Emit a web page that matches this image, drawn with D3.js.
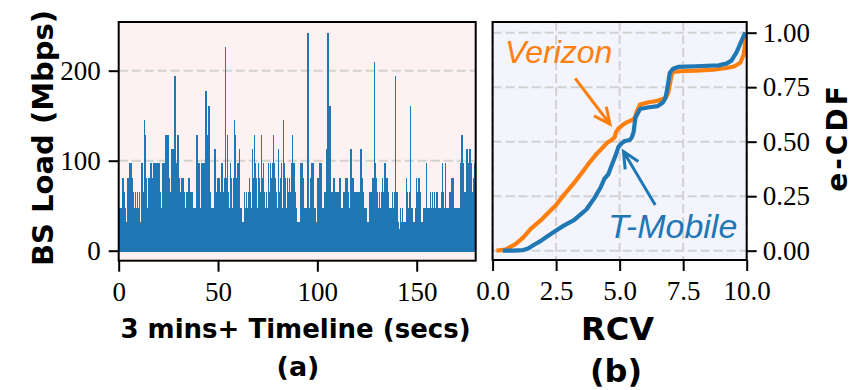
<!DOCTYPE html>
<html><head><meta charset="utf-8">
<script src="https://cdn.jsdelivr.net/npm/d3@7"></script>
<style>
html,body{margin:0;padding:0;background:#fff;}
svg{display:block;}
</style></head>
<body><svg id="chart" width="855" height="390"></svg>
<script>
// ---------------- DATA ----------------
// (a) BS load, one value per 0.5 s sample (Mbps)
const loadMbps = [
 48,48,48,81,81,65,48,32,81,81,
 97,97,97,81,65,48,65,48,65,48,
 65,32,97,97,65,145,129,81,48,81,
 81,65,97,81,65,97,48,97,97,65,
 97,65,48,48,97,97,97,129,48,129,
 81,65,48,113,48,113,194,97,48,129,
 81,48,65,81,81,65,48,48,65,32,
 81,65,48,65,48,48,32,48,129,97,
 97,48,48,97,65,97,97,177,129,97,
 161,65,48,48,32,48,113,65,48,81,
 81,65,48,97,97,65,81,226,81,129,
 65,48,97,81,48,81,145,129,81,97,
 97,113,48,48,32,32,65,48,65,48,
 65,81,65,48,113,81,129,97,81,48,
 97,81,65,129,81,97,65,48,65,48,
 97,65,97,81,97,129,97,81,65,48,
 113,65,81,97,48,145,97,81,48,81,
 65,81,65,97,129,97,97,65,48,32,
 32,32,32,97,97,81,48,32,48,48,
 242,48,48,81,97,97,48,48,32,32,
 81,81,97,97,48,48,32,65,48,113,
 242,161,161,65,48,65,81,65,48,65,
 48,65,81,48,48,48,65,48,81,81,
 65,48,48,113,81,81,65,48,65,48,
 65,48,65,113,81,65,48,48,48,32,
 32,32,65,48,65,81,81,210,97,81,
 65,48,65,48,65,81,65,97,97,81,
 81,65,48,48,48,65,48,65,194,65,
 65,32,24,48,32,48,32,32,32,81,
 65,48,65,161,48,48,32,32,48,81,
 65,81,81,65,32,32,48,48,48,97,
 48,48,48,65,48,65,48,65,48,65,
 65,48,48,48,65,97,65,48,97,48,
 48,48,48,65,48,81,81,48,48,48,
 48,48,48,48,97,129,97,65,48,65,
 113,97,97,113,97,65,48,81,97,65
];
const sampleStepSecs = 0.5;
const timeTicks = [0, 50, 100, 150];
const loadTicks = [0, 100, 200];

// (b) e-CDF of RCV per carrier
const verizonRCV = [0.15,0.5,0.9,1.2,1.5,1.9,2.2,2.5,2.8,3.2,3.5,3.85,4.1,4.35,4.5,4.65,4.8,4.86,4.95,5.1,5.3,5.5,5.6,5.68,5.8,6.1,6.5,6.8,6.9,6.97,7.05,7.1,7.4,8.0,8.7,9.2,9.5,9.75,9.88,9.95,10.0];
const verizonCDF = [0,0.005,0.03,0.06,0.1,0.14,0.175,0.21,0.255,0.31,0.355,0.41,0.445,0.475,0.495,0.505,0.52,0.545,0.56,0.575,0.59,0.6,0.61,0.64,0.67,0.68,0.688,0.7,0.72,0.76,0.81,0.82,0.823,0.826,0.83,0.838,0.845,0.862,0.9,0.96,1.0];
const tmobileRCV = [0.4,0.8,1.2,1.4,1.6,1.9,2.2,2.5,2.8,3.2,3.5,3.7,3.85,4.0,4.1,4.25,4.4,4.55,4.65,4.75,4.85,4.95,5.05,5.2,5.4,5.48,5.55,5.62,5.8,6.1,6.5,6.7,6.8,6.88,6.97,7.1,7.3,8.0,8.9,9.2,9.4,9.6,9.75,9.9,9.95];
const tmobileCDF = [0,0,0.003,0.01,0.025,0.045,0.07,0.093,0.115,0.14,0.17,0.19,0.215,0.24,0.26,0.29,0.33,0.35,0.38,0.41,0.44,0.475,0.49,0.503,0.508,0.52,0.545,0.61,0.65,0.657,0.663,0.68,0.7,0.745,0.815,0.835,0.843,0.846,0.85,0.858,0.872,0.91,0.95,0.99,1.0];
const rcvTicks = [0, 2.5, 5, 7.5, 10];
const cdfTicks = [0, 0.25, 0.5, 0.75, 1];

// annotations (text anchor, arrow tail, arrow head) in data units
const carrierNames = ["Verizon", "T-Mobile"];
const labelAt = [[0.49, 0.86], [4.55, 0.06]];
const arrowTail = [[3.25, 0.79], [6.4, 0.21]];
const arrowHead = [[4.62, 0.58], [5.15, 0.455]];

// ---------------- STYLE ----------------
const BLUE = "#1f77b4", ORANGE = "#ff7f0e";
const serif = "'Liberation Serif', 'Times New Roman', serif";
const sansB = "'DejaVu Sans', sans-serif";

const svg = d3.select("#chart");

// ---------- Panel (a) ----------
const A = {l:118.7, r:475.7, t:22, b:260.7};
const xL = d3.scaleLinear().domain([0, 179.7]).range([A.l, A.r]);
const yL = d3.scaleLinear().domain([-11.1, 254.1]).range([A.b, A.t]);

svg.append("rect").attr("x",A.l).attr("y",A.t).attr("width",A.r-A.l).attr("height",A.b-A.t)
  .attr("fill","#fdf1f1");
svg.append("clipPath").attr("id","clipA").append("rect")
  .attr("x",A.l).attr("y",A.t).attr("width",A.r-A.l).attr("height",A.b-A.t);

svg.append("g").selectAll("line").data(loadTicks).join("line")
  .attr("x1",A.l).attr("x2",A.r).attr("y1",d=>yL(d)).attr("y2",d=>yL(d))
  .attr("stroke","#d2d2d2").attr("stroke-width",2).attr("stroke-dasharray","9,4");

const bw = xL(sampleStepSecs) - xL(0);
svg.append("g").attr("clip-path","url(#clipA)").attr("shape-rendering","crispEdges")
  .selectAll("rect").data(loadMbps).join("rect")
  .attr("x", (d,i)=>xL(i*sampleStepSecs))
  .attr("width", bw + 0.5)
  .attr("y", d=>yL(d))
  .attr("height", d=>yL(0)-yL(d)+0.8)
  .attr("fill", BLUE);

svg.append("rect").attr("x",A.l).attr("y",A.t).attr("width",A.r-A.l).attr("height",A.b-A.t)
  .attr("fill","none").attr("stroke","#000").attr("stroke-width",2);

function styleAxis(g, size){
  g.select(".domain").remove();
  g.selectAll(".tick line").attr("stroke","#000").attr("stroke-width",2);
  g.selectAll(".tick text").attr("font-family",serif).attr("font-size",size).attr("fill","#000");
}
svg.append("g").attr("transform",`translate(${A.l},0)`)
  .call(d3.axisLeft(yL).tickValues(loadTicks).tickSize(10).tickPadding(8).tickFormat(d3.format("d")))
  .call(g=>styleAxis(g,27));
svg.append("g").attr("transform",`translate(0,${A.b})`)
  .call(d3.axisBottom(xL).tickValues(timeTicks).tickSize(11).tickPadding(10).tickFormat(d3.format("d")))
  .call(g=>styleAxis(g,27));

svg.append("text").attr("transform","translate(53,138) rotate(-90)")
  .attr("text-anchor","middle").attr("font-family",sansB).attr("font-weight","bold")
  .attr("font-size",29).text("BS Load (Mbps)");
svg.append("text").attr("x",295.5).attr("y",338).attr("text-anchor","middle")
  .attr("font-family",sansB).attr("font-weight","bold").attr("font-size",26)
  .text("3 mins+ Timeline (secs)");
svg.append("text").attr("x",298).attr("y",376).attr("text-anchor","middle")
  .attr("font-family",sansB).attr("font-weight","bold").attr("font-size",27).text("(a)");

// ---------- Panel (b) ----------
const B = {l:492.6, r:746.7, t:22, b:260};
const xR = d3.scaleLinear().domain([0, 10]).range([B.l, B.r]);
const yR = d3.scaleLinear().domain([-0.0427, 1.049]).range([B.b, B.t]);

svg.append("rect").attr("x",B.l).attr("y",B.t).attr("width",B.r-B.l).attr("height",B.b-B.t)
  .attr("fill","#f3f4fc");
svg.append("clipPath").attr("id","clipB").append("rect")
  .attr("x",B.l).attr("y",B.t).attr("width",B.r-B.l).attr("height",B.b-B.t);

const gridB = svg.append("g").attr("stroke","#d2d2d2").attr("stroke-width",2).attr("stroke-dasharray","9,4");
gridB.selectAll("line.h").data(cdfTicks).join("line").attr("class","h")
  .attr("x1",B.l).attr("x2",B.r).attr("y1",d=>yR(d)).attr("y2",d=>yR(d));
gridB.selectAll("line.v").data(rcvTicks).join("line").attr("class","v")
  .attr("y1",B.t).attr("y2",B.b).attr("x1",d=>xR(d)).attr("x2",d=>xR(d));

const series = [
  {name:"Verizon", xs:verizonRCV, ys:verizonCDF, color:ORANGE},
  {name:"T-Mobile", xs:tmobileRCV, ys:tmobileCDF, color:BLUE}
];
const line = d3.line().x(d=>xR(d[0])).y(d=>yR(d[1]));
svg.append("g").attr("clip-path","url(#clipB)").selectAll("path").data(series).join("path")
  .attr("d", s=>line(s.xs.map((x,i)=>[x, s.ys[i]])))
  .attr("fill","none").attr("stroke",s=>s.color).attr("stroke-width",4.2)
  .attr("stroke-linejoin","round").attr("stroke-linecap","butt");

svg.append("rect").attr("x",B.l).attr("y",B.t).attr("width",B.r-B.l).attr("height",B.b-B.t)
  .attr("fill","none").attr("stroke","#000").attr("stroke-width",2);

svg.append("g").attr("transform",`translate(${B.r},0)`)
  .call(d3.axisRight(yR).tickValues(cdfTicks).tickSize(10).tickPadding(6).tickFormat(d3.format(".2f")))
  .call(g=>styleAxis(g,27));
svg.append("g").attr("transform",`translate(0,${B.b})`)
  .call(d3.axisBottom(xR).tickValues(rcvTicks).tickSize(11).tickPadding(10).tickFormat(d3.format(".1f")))
  .call(g=>styleAxis(g,27));

// annotations
const colors = [ORANGE, BLUE];
const annSize = [32, 34];
carrierNames.forEach((name,i)=>{
  svg.append("text").attr("x",xR(labelAt[i][0])).attr("y",yR(labelAt[i][1]))
    .attr("font-family","'Liberation Sans', Arial, sans-serif").attr("font-style","italic")
    .attr("font-size",annSize[i]).attr("fill",colors[i]).text(name);
  const x0=xR(arrowTail[i][0]), y0=yR(arrowTail[i][1]), x1=xR(arrowHead[i][0]), y1=yR(arrowHead[i][1]);
  const ang = Math.atan2(y0-y1, x0-x1), L=18, w=0.44;
  const p = `M${x0},${y0}L${x1},${y1}M${x1+L*Math.cos(ang-w)},${y1+L*Math.sin(ang-w)}L${x1},${y1}L${x1+L*Math.cos(ang+w)},${y1+L*Math.sin(ang+w)}`;
  svg.append("path").attr("d",p).attr("fill","none").attr("stroke",colors[i])
    .attr("stroke-width",3).attr("stroke-linejoin","miter");
});

svg.append("text").attr("x",617.5).attr("y",340).attr("text-anchor","middle")
  .attr("font-family",sansB).attr("font-weight","bold").attr("font-size",32).text("RCV");
svg.append("text").attr("x",616).attr("y",382).attr("text-anchor","middle")
  .attr("font-family",sansB).attr("font-weight","bold").attr("font-size",32).text("(b)");
svg.append("text").attr("transform","translate(847,137.5) rotate(-90)")
  .attr("text-anchor","middle").attr("font-family",sansB).attr("font-weight","bold")
  .attr("font-size",28).attr("letter-spacing",3).text("e-CDF");
</script>
</body></html>
